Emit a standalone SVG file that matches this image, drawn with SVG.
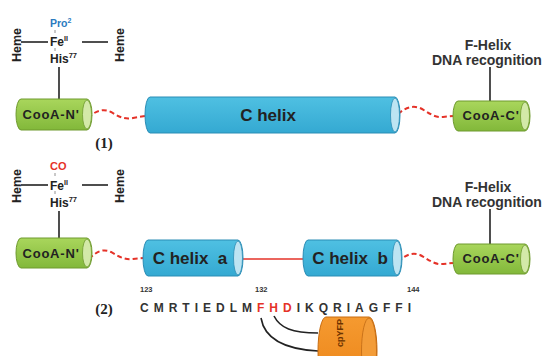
<svg xmlns="http://www.w3.org/2000/svg" width="544" height="356" viewBox="0 0 544 356">
<defs>
<linearGradient id="gG" x1="0" y1="0" x2="0" y2="1"><stop offset="0" stop-color="#a9d65c"/><stop offset="1" stop-color="#82b83a"/></linearGradient>
<linearGradient id="gB" x1="0" y1="0" x2="0" y2="1"><stop offset="0" stop-color="#4fc0e2"/><stop offset="1" stop-color="#34a9d2"/></linearGradient>
<linearGradient id="gO" x1="0" y1="0" x2="0" y2="1"><stop offset="0" stop-color="#f59a30"/><stop offset="1" stop-color="#ec8418"/></linearGradient>
</defs>
<style>
.t{font-family:"Liberation Sans",Arial,sans-serif;font-weight:bold;fill:#222}
.s{font-family:"Liberation Serif","Times New Roman",serif;font-weight:bold;fill:#222}
.green{fill:url(#gG);stroke:#6e9a2e;stroke-width:1}
.gcap{fill:#d3e9a8;stroke:#6e9a2e;stroke-width:0.8}
.blue{fill:url(#gB);stroke:#2b8db5;stroke-width:1}
.bcap{fill:#bde4f2;stroke:#2b8db5;stroke-width:0.8}
.orange{fill:url(#gO);stroke:#c86c10;stroke-width:1}
.ocap{fill:#f39c38;stroke:#c06a14;stroke-width:0.8}
.dash{fill:none;stroke:#e53228;stroke-width:2;stroke-dasharray:5 3}
.red{fill:none;stroke:#e53228;stroke-width:1.6}
.blk{fill:none;stroke:#222;stroke-width:1.6}
.tick{stroke:#777;stroke-width:0.8}
</style>
<rect width="544" height="356" fill="#ffffff"/>

<g id="connectors">
<line class="blk" x1="21" y1="42" x2="48" y2="42"/>
<line class="blk" x1="82" y1="42" x2="108" y2="42"/>
<line class="blk" x1="59" y1="67" x2="59" y2="99"/>
<line class="tick" x1="55" y1="30" x2="55" y2="33"/>
<line class="tick" x1="55" y1="48" x2="55" y2="51"/>
<line class="blk" x1="490" y1="67" x2="490" y2="101"/>
<path class="dash" d="M88,118 C95,111 103,108 111,112 C118,116 124,120 133,118 L145,116"/>
<path class="dash" d="M398,114 C405,108 412,105 420,108 C428,112 434,118 443,117 L453,116"/>

<line class="blk" x1="21" y1="185" x2="48" y2="185"/>
<line class="blk" x1="82" y1="185" x2="108" y2="185"/>
<line class="blk" x1="59" y1="211" x2="59" y2="238"/>
<line class="tick" x1="55" y1="173" x2="55" y2="176"/>
<line class="tick" x1="55" y1="191" x2="55" y2="194"/>
<line class="blk" x1="490" y1="209" x2="490" y2="244"/>
<path class="dash" d="M89,259 C96,252 103,248 111,252 C118,256 124,260 133,259 L143,258"/>
<path class="dash" d="M398,262 C405,255 412,252 420,255 C428,259 434,265 443,264 L453,263"/>
<line class="red" x1="243" y1="259" x2="303" y2="259"/>
<path class="blk" d="M261,318 C264,336 280,349 318,351"/>
<path class="blk" d="M274,316 C280,328 292,333 318,333"/>
</g>

<g id="heme1">
<text class="t" font-size="12.5" text-anchor="middle" transform="translate(21,45) rotate(-90)">Heme</text>
<text class="t" font-size="12.5" text-anchor="middle" transform="translate(124,45) rotate(-90)">Heme</text>
<text class="t" font-size="10.5" x="50" y="27" fill="#2b7bbf" style="fill:#2b7bbf">Pro<tspan font-size="7" dy="-4">2</tspan></text>
<text class="t" font-size="12" x="50" y="46">Fe<tspan font-size="7" dy="-5">II</tspan></text>
<text class="t" font-size="12" x="50" y="63">His<tspan font-size="7.5" dy="-5">77</tspan></text>
</g>

<g id="cooaN1">
<path class="green" d="M21,99 H87 A5,15.5 0 0 1 87,130 H21 A5,15.5 0 0 1 21,99 Z"/>
<ellipse class="gcap" cx="87" cy="114.5" rx="4.5" ry="14.5"/>
<text class="t" font-size="13" letter-spacing="0.8" x="51" y="119" text-anchor="middle">CooA-N'</text>
</g>

<g id="chelix1">
<path class="blue" d="M150,97 H395 A5,18 0 0 1 395,133 H150 A5,18 0 0 1 150,97 Z"/>
<ellipse class="bcap" cx="395" cy="115" rx="4.5" ry="17"/>
<text class="t" font-size="17" x="268" y="121" text-anchor="middle">C helix</text>
</g>

<g id="cooaC1">
<path class="green" d="M458,101 H525 A5,15 0 0 1 525,131 H458 A5,15 0 0 1 458,101 Z"/>
<ellipse class="gcap" cx="525" cy="116" rx="4.5" ry="14"/>
<text class="t" font-size="13" letter-spacing="0.8" x="491" y="120" text-anchor="middle">CooA-C'</text>
</g>

<g id="fhelix1">
<text class="t" font-size="14" x="488" y="50" text-anchor="middle" style="fill:#333">F-Helix</text>
<text class="t" font-size="14" x="432" y="65" style="fill:#333">DNA recognition</text>
</g>

<g id="label1"><text class="s" font-size="15" x="104" y="148" text-anchor="middle">(1)</text></g>

<g id="heme2">
<text class="t" font-size="12.5" text-anchor="middle" transform="translate(21,186) rotate(-90)">Heme</text>
<text class="t" font-size="12.5" text-anchor="middle" transform="translate(124,186) rotate(-90)">Heme</text>
<text class="t" font-size="11" x="50" y="170" style="fill:#e53228">CO</text>
<text class="t" font-size="12" x="50" y="190">Fe<tspan font-size="7" dy="-5">II</tspan></text>
<text class="t" font-size="12" x="50" y="207">His<tspan font-size="7.5" dy="-5">77</tspan></text>
</g>

<g id="cooaN2">
<path class="green" d="M21,238 H87 A5,15 0 0 1 87,268 H21 A5,15 0 0 1 21,238 Z"/>
<ellipse class="gcap" cx="87" cy="253" rx="4.5" ry="14"/>
<text class="t" font-size="13" letter-spacing="0.8" x="51" y="258" text-anchor="middle">CooA-N'</text>
</g>

<g id="chelixA">
<path class="blue" d="M148,240 H238 A5,18 0 0 1 238,276 H148 A5,18 0 0 1 148,240 Z"/>
<ellipse class="bcap" cx="238" cy="258" rx="4.5" ry="17"/>
<text class="t" font-size="17" x="190" y="264" text-anchor="middle" xml:space="preserve">C helix  a</text>
</g>

<g id="chelixB">
<path class="blue" d="M308,240 H397 A5,18 0 0 1 397,276 H308 A5,18 0 0 1 308,240 Z"/>
<ellipse class="bcap" cx="397" cy="258" rx="4.5" ry="17"/>
<text class="t" font-size="17" x="350" y="264" text-anchor="middle" xml:space="preserve">C helix  b</text>
</g>

<g id="cooaC2">
<path class="green" d="M458,244 H525 A5,15 0 0 1 525,274 H458 A5,15 0 0 1 458,244 Z"/>
<ellipse class="gcap" cx="525" cy="259" rx="4.5" ry="14"/>
<text class="t" font-size="13" letter-spacing="0.8" x="491" y="263" text-anchor="middle">CooA-C'</text>
</g>

<g id="fhelix2">
<text class="t" font-size="14" x="488" y="192" text-anchor="middle" style="fill:#333">F-Helix</text>
<text class="t" font-size="14" x="432" y="207" style="fill:#333">DNA recognition</text>
</g>

<g id="label2"><text class="s" font-size="15" x="104" y="314" text-anchor="middle">(2)</text></g>

<g id="sequence">
<text class="t" font-size="7.5" x="140" y="292" style="fill:#333">123</text>
<text class="t" font-size="7.5" x="255" y="292" style="fill:#333">132</text>
<text class="t" font-size="7.5" x="407" y="292" style="fill:#333">144</text>
<text class="t" font-size="12" x="140" y="312" letter-spacing="5" style="fill:#333">CMRTIEDLM<tspan style="fill:#e53228">FHD</tspan>IKQRIAGFFI</text>
</g>

<g id="cpyfp">
<path class="orange" d="M326,317 H369 A8,34 0 0 1 369,385 H326 A8,34 0 0 1 326,317 Z"/>
<ellipse class="ocap" cx="369" cy="351" rx="7.5" ry="33"/>
<text class="t" font-size="9" text-anchor="middle" transform="translate(343,333) rotate(-90)" style="fill:#6b3200">cpYFP</text>
</g>
</svg>
